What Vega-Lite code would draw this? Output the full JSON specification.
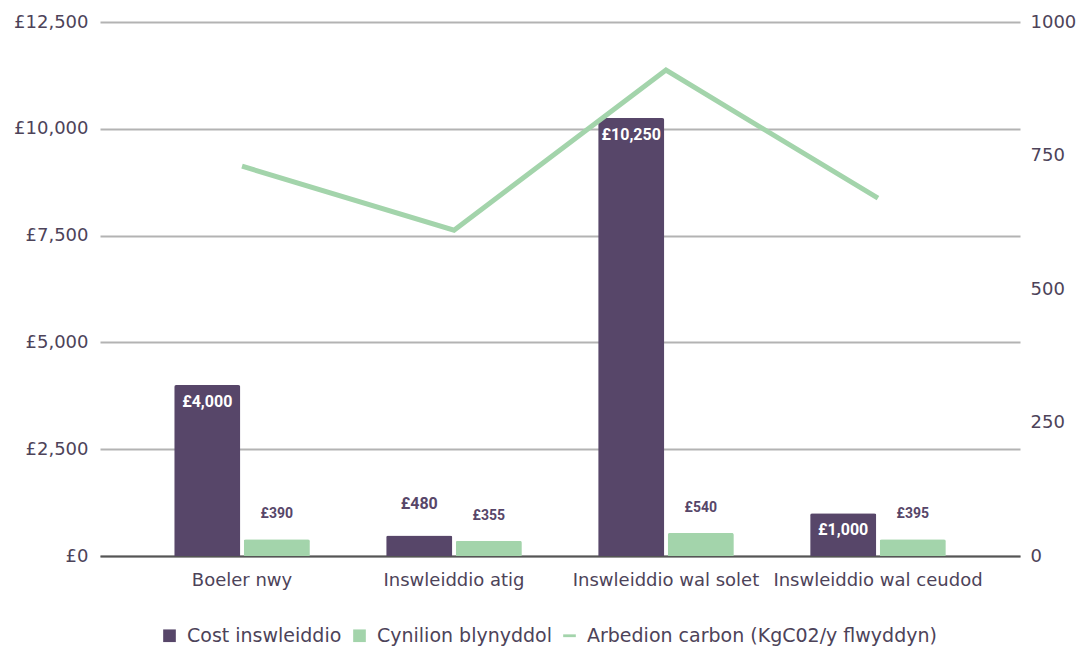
{
  "$schema": "https://vega.github.io/schema/vega-lite/v6.json",
  "autosize": "none",
  "width": 920,
  "height": 534,
  "padding": {"left": 100, "top": 22, "right": 59, "bottom": 90},
  "background": "white",
  "config": {
    "view": {"stroke": null},
    "font": "DejaVu Sans",
    "locale": {"number": {"decimal": ".", "thousands": ",", "grouping": [3], "currency": ["£", ""]}}
  },
  "data": {
    "values": [
      {"cat": "Boeler nwy", "series": "Cost inswleiddio", "value": 4000},
      {"cat": "Boeler nwy", "series": "Cynilion blynyddol", "value": 390},
      {"cat": "Boeler nwy", "series": "Arbedion carbon (KgC02/y flwyddyn)", "value": 730},
      {"cat": "Inswleiddio atig", "series": "Cost inswleiddio", "value": 480},
      {"cat": "Inswleiddio atig", "series": "Cynilion blynyddol", "value": 355},
      {"cat": "Inswleiddio atig", "series": "Arbedion carbon (KgC02/y flwyddyn)", "value": 610},
      {"cat": "Inswleiddio wal solet", "series": "Cost inswleiddio", "value": 10250},
      {"cat": "Inswleiddio wal solet", "series": "Cynilion blynyddol", "value": 540},
      {"cat": "Inswleiddio wal solet", "series": "Arbedion carbon (KgC02/y flwyddyn)", "value": 910},
      {"cat": "Inswleiddio wal ceudod", "series": "Cost inswleiddio", "value": 1000},
      {"cat": "Inswleiddio wal ceudod", "series": "Cynilion blynyddol", "value": 395},
      {"cat": "Inswleiddio wal ceudod", "series": "Arbedion carbon (KgC02/y flwyddyn)", "value": 670}
    ]
  },
  "encoding": {
    "x": {
      "field": "cat", "type": "nominal", "sort": null, "title": null,
      "scale": {"paddingInner": 0.36, "paddingOuter": 0.35},
      "axis": {
        "labelAngle": 0, "labelFont": "DejaVu Sans", "labelFontSize": 18, "labelColor": "#4d4359",
        "labelPadding": 15, "ticks": false, "domain": true, "domainColor": "#555555", "domainWidth": 2,
        "labelOverlap": false, "labelLimit": 400
      }
    }
  },
  "layer": [
    {
      "transform": [{"filter": "datum.series !== 'Arbedion carbon (KgC02/y flwyddyn)'"}],
      "encoding": {
        "xOffset": {"field": "series", "type": "nominal", "scale": {"domain": ["Cost inswleiddio", "Cynilion blynyddol"], "paddingInner": 0.05}},
        "y": {
          "field": "value", "type": "quantitative", "title": null,
          "scale": {"domain": [0, 12500], "nice": false},
          "axis": {
            "orient": "left", "values": [0, 2500, 5000, 7500, 10000, 12500],
            "labelExpr": "'£' + format(datum.value, ',')",
            "labelFont": "DejaVu Sans", "labelFontSize": 18, "labelColor": "#4d4359",
            "labelPadding": 12, "ticks": false, "domain": false,
            "grid": true, "gridColor": "#b3b3b3", "gridWidth": 2
          }
        }
      },
      "layer": [
        {
          "mark": {"type": "bar", "cornerRadiusTopLeft": 2, "cornerRadiusTopRight": 2},
          "encoding": {
            "color": {
              "field": "series", "type": "nominal", "title": null,
              "scale": {
                "domain": ["Cost inswleiddio", "Cynilion blynyddol", "Arbedion carbon (KgC02/y flwyddyn)"],
                "range": ["#574669", "#a3d4ab", "#a3d4ab"]
              },
              "legend": {
                "orient": "none", "direction": "horizontal", "legendX": 60, "legendY": 604,
                "labelFont": "DejaVu Sans", "labelFontSize": 19, "labelColor": "#4d4359", "labelLimit": 500,
                "symbolSize": 160, "symbolType": "square", "symbolStrokeWidth": 0, "labelOffset": 8, "columnPadding": 8,
                "encode": {
                  "symbols": {
                    "update": {
                      "shape": {"signal": "datum.value === 'Arbedion carbon (KgC02/y flwyddyn)' ? 'M-1,-0.22H1V0.22H-1Z' : 'square'"}
                    }
                  }
                }
              }
            }
          }
        },
        {
          "transform": [{"filter": "datum.series === 'Cost inswleiddio' && datum.value >= 1000"}],
          "mark": {"type": "text", "baseline": "top", "dy": 9, "font": "Roboto", "fontWeight": "bold", "fontSize": 16},
          "encoding": {
            "text": {"field": "value", "type": "quantitative", "format": "$,.0f"},
            "color": {"value": "white"}
          }
        },
        {
          "transform": [{"filter": "datum.series === 'Cost inswleiddio' && datum.value < 1000"}],
          "mark": {"type": "text", "baseline": "bottom", "dy": -23, "font": "Roboto", "fontWeight": "bold", "fontSize": 16, "stroke": "white", "strokeWidth": 0},
          "encoding": {
            "text": {"field": "value", "type": "quantitative", "format": "$,.0f"},
            "color": {"value": "#574669"}
          }
        },
        {
          "transform": [{"filter": "datum.series === 'Cynilion blynyddol'"}],
          "mark": {"type": "text", "baseline": "bottom", "dy": -18, "font": "Roboto", "fontWeight": "bold", "fontSize": 14},
          "encoding": {
            "text": {"field": "value", "type": "quantitative", "format": "$,.0f"},
            "color": {"value": "#574669"}
          }
        }
      ]
    },
    {
      "transform": [{"filter": "datum.series === 'Arbedion carbon (KgC02/y flwyddyn)'"}],
      "mark": {"type": "line", "strokeWidth": 5},
      "encoding": {
        "y": {
          "field": "value", "type": "quantitative", "title": null,
          "scale": {"domain": [0, 1000], "nice": false},
          "axis": {
            "orient": "right", "values": [0, 250, 500, 750, 1000], "format": "d",
            "labelFont": "DejaVu Sans", "labelFontSize": 18, "labelColor": "#4d4359",
            "labelPadding": 10, "ticks": false, "domain": false, "grid": false
          }
        },
        "color": {"field": "series", "type": "nominal"}
      }
    }
  ],
  "resolve": {"scale": {"y": "independent"}}
}
